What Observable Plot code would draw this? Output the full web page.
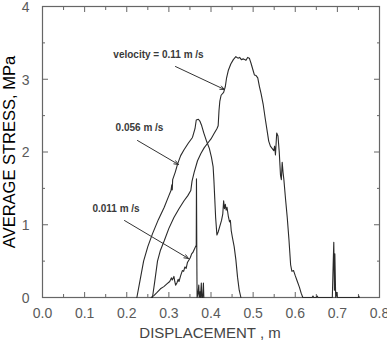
<!DOCTYPE html>
<html>
<head>
<meta charset="utf-8">
<script src="https://cdn.jsdelivr.net/npm/d3@7"></script>
<script src="https://cdn.jsdelivr.net/npm/@observablehq/plot@0.6"></script>
<style>
  html, body { margin: 0; padding: 0; background: #fff; }
  #chart svg { display: block; }
</style>
</head>
<body>
<div id="chart"></div>
<script>
// ---- data ----
const xTicks = [0, 0.1, 0.2, 0.3, 0.4, 0.5, 0.6, 0.7, 0.8];
const xMinorTicks = [0.05, 0.15, 0.25, 0.35, 0.45, 0.55, 0.65, 0.75];
const yTicks = [0, 1, 2, 3, 4];
const yMinorTicks = [0.5, 1.5, 2.5, 3.5];

const series011 = [
  [0.258, 0], [0.265, 0.03], [0.272, 0.07], [0.28, 0.12], [0.288, 0.15], [0.296, 0.19],
  [0.302, 0.22], [0.306, 0.27], [0.308, 0.24], [0.312, 0.29], [0.314, 0.22], [0.316, 0.17],
  [0.319, 0.2], [0.322, 0.25], [0.324, 0.22], [0.328, 0.3], [0.332, 0.37], [0.335, 0.36],
  [0.338, 0.42], [0.341, 0.4], [0.344, 0.48], [0.348, 0.52], [0.351, 0.55], [0.354, 0.6],
  [0.357, 0.62], [0.361, 0.67], [0.365, 0.72], [0.3655, 1.63], [0.3665, 0.4], [0.367, 0],
  [0.369, 0.05], [0.371, 0.17], [0.372, 0], [0.374, 0.08], [0.375, 0], [0.377, 0.2],
  [0.378, 0], [0.38, 0], [0.382, 0.2], [0.383, 0]
];

const series056 = [
  [0.224, 0], [0.232, 0.25], [0.24, 0.5], [0.25, 0.7], [0.261, 0.875], [0.275, 1.07],
  [0.289, 1.24], [0.3, 1.4], [0.305, 1.47], [0.307, 1.55], [0.308, 1.48], [0.309, 1.62],
  [0.315, 1.72], [0.321, 1.84], [0.328, 1.95], [0.336, 2.03], [0.346, 2.12], [0.356, 2.2],
  [0.362, 2.32], [0.365, 2.44], [0.37, 2.45], [0.374, 2.42], [0.378, 2.36], [0.383, 2.26],
  [0.39, 2.14], [0.396, 2.05], [0.401, 1.93], [0.405, 1.8], [0.407, 1.6], [0.409, 1.35],
  [0.411, 1.1], [0.414, 0.86], [0.417, 0.9], [0.421, 0.98], [0.425, 1.06], [0.428, 1.15],
  [0.43, 1.33], [0.432, 1.22], [0.434, 1.28], [0.436, 1.2], [0.438, 1.24], [0.441, 1.12],
  [0.444, 1.04], [0.446, 1.06], [0.448, 0.92], [0.451, 0.82], [0.455, 0.7], [0.459, 0.52],
  [0.463, 0.28], [0.467, 0.1], [0.471, 0]
];

const series11 = [
  [0.261, 0], [0.266, 0.2], [0.273, 0.5], [0.28, 0.65], [0.289, 0.78], [0.3, 0.95],
  [0.312, 1.1], [0.324, 1.22], [0.336, 1.33], [0.345, 1.4], [0.352, 1.47], [0.355, 1.6],
  [0.36, 1.72], [0.368, 1.88], [0.376, 1.98], [0.384, 2.06], [0.392, 2.12], [0.4, 2.18],
  [0.407, 2.25], [0.414, 2.32], [0.417, 2.36], [0.419, 2.57], [0.421, 2.7], [0.424, 2.78],
  [0.43, 2.82], [0.434, 2.9], [0.437, 3.02], [0.441, 3.12], [0.447, 3.21], [0.453, 3.27],
  [0.459, 3.31], [0.464, 3.29], [0.468, 3.3], [0.472, 3.27], [0.477, 3.28], [0.483, 3.26],
  [0.487, 3.3], [0.491, 3.29], [0.495, 3.22], [0.5, 3.12], [0.503, 3.06], [0.507, 3.05],
  [0.511, 3.02], [0.515, 2.9], [0.519, 2.8], [0.524, 2.65], [0.529, 2.45], [0.533, 2.3],
  [0.537, 2.15], [0.541, 2.08], [0.545, 2.05], [0.549, 2.02], [0.551, 2.08], [0.553, 1.96],
  [0.556, 2.26], [0.559, 2.22], [0.562, 2.0], [0.565, 1.68], [0.567, 1.62], [0.569, 1.86],
  [0.571, 1.72], [0.573, 1.62], [0.577, 1.35], [0.581, 1.1], [0.585, 0.8], [0.589, 0.45],
  [0.592, 0.36], [0.596, 0.37], [0.6, 0.3], [0.605, 0.22], [0.61, 0.14], [0.614, 0.06],
  [0.618, 0], [0.64, 0], [0.642, 0.02], [0.644, 0], [0.65, 0], [0.652, 0.02], [0.654, 0],
  [0.688, 0], [0.69, 0.45], [0.6915, 0.76], [0.693, 0.1], [0.694, 0.6], [0.696, 0],
  [0.698, 0.07], [0.7, 0], [0.75, 0], [0.751, 0.02], [0.752, 0]
];

const annotations = [
  {text: "velocity = 0.11 m /s", x: 0.2754, y: 3.34, x1: 0.3157, y1: 3.175, x2: 0.432, y2: 2.859},
  {text: "0.056 m /s", x: 0.2303, y: 2.337, x1: 0.2255, y1: 2.158, x2: 0.3228, y2: 1.828},
  {text: "0.011 m /s", x: 0.1745, y: 1.223, x1: 0.1947, y1: 1.058, x2: 0.3466, y2: 0.536}
];

const xTitle = "DISPLACEMENT , m";
const yTitle = "AVERAGE STRESS, MPa";

// ---- chart ----
const lineStyle = {x: d => d[0], y: d => d[1], stroke: "#2a2a2a", strokeWidth: 1.1};
const axisColor = "#666";

const chart = Plot.plot({
  width: 387,
  height: 346,
  marginLeft: 42,
  marginRight: 8,
  marginTop: 6,
  marginBottom: 49,
  style: {fontFamily: "'Liberation Sans', Arial, sans-serif", background: "#fff", color: "#555"},
  x: {domain: [0, 0.8]},
  y: {domain: [0, 4]},
  marks: [
    Plot.frame({stroke: axisColor, strokeWidth: 1.2}),
    // inward ticks on all four sides
    Plot.axisX(xTicks, {anchor: "bottom", tickSize: 5, dy: -5, fill: "none", stroke: axisColor, label: null}),
    Plot.axisX(xMinorTicks, {anchor: "bottom", tickSize: 3, dy: -3, fill: "none", stroke: axisColor, label: null}),
    Plot.axisX(xTicks, {anchor: "top", tickSize: 5, dy: 5, fill: "none", stroke: axisColor, label: null}),
    Plot.axisX(xMinorTicks, {anchor: "top", tickSize: 3, dy: 3, fill: "none", stroke: axisColor, label: null}),
    Plot.axisY(yTicks, {anchor: "left", tickSize: 6, dx: 6, fill: "none", stroke: axisColor, label: null}),
    Plot.axisY(yMinorTicks, {anchor: "left", tickSize: 3, dx: 3, fill: "none", stroke: axisColor, label: null}),
    Plot.axisY(yTicks, {anchor: "right", tickSize: 6, dx: -6, fill: "none", stroke: axisColor, label: null}),
    Plot.axisY(yMinorTicks, {anchor: "right", tickSize: 3, dx: -3, fill: "none", stroke: axisColor, label: null}),
    // tick labels
    Plot.axisX(xTicks, {anchor: "bottom", tickSize: 0, tickPadding: 11, tickFormat: d3.format(".1f"),
      fontSize: 14, fill: "#5a5a5a", label: null}),
    Plot.axisY(yTicks, {anchor: "left", tickSize: 0, tickPadding: 13, tickFormat: d3.format("d"),
      fontSize: 14, fill: "#5a5a5a", label: null, dy: 1}),
    // axis titles
    Plot.text([xTitle], {frameAnchor: "bottom", dy: 40, dx: -1, fontSize: 15, fill: "#444",
      ariaLabel: "xtitle"}),
    Plot.text([yTitle], {frameAnchor: "left", textAnchor: "middle", dx: -33, rotate: -90,
      fontSize: 16.5, fill: "#000"}),
    // curves
    Plot.line(series056, lineStyle),
    Plot.line(series11, lineStyle),
    Plot.line(series011, lineStyle),
    // annotations
    Plot.arrow(annotations, {x1: "x1", y1: "y1", x2: "x2", y2: "y2", stroke: "#333", strokeWidth: 1,
      headLength: 7, headAngle: 45}),
    Plot.text(annotations, {x: "x", y: "y", text: "text", fontSize: 10, fontWeight: "bold",
      fill: "#3a3a3a", ariaLabel: "ann"})
  ]
});

d3.select(chart).selectAll('g[aria-label="ann"] text').style("letter-spacing", "0.35px");
d3.select(chart).selectAll('g[aria-label="xtitle"] text').style("letter-spacing", "0.4px");

document.getElementById("chart").appendChild(chart);
</script>
</body>
</html>
